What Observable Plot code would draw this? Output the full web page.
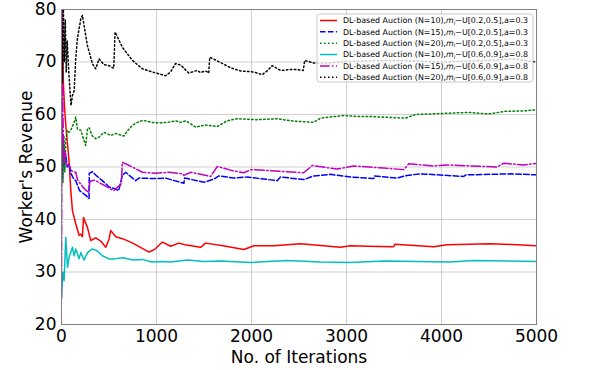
<!DOCTYPE html>
<html>
<head>
<meta charset="utf-8">
<script src="https://cdn.jsdelivr.net/npm/d3@7"></script>
<script src="https://cdn.jsdelivr.net/npm/@observablehq/plot@0.6"></script>
<style>
  html, body { margin: 0; padding: 0; background: #fff; }
  #chart svg { display: block; }
</style>
</head>
<body>
<div id="chart"></div>
<script>
// ---- data: [iteration, revenue] ----
const redN10a03 = [[0,80],[5,72],[10,78],[20,66],[30,62],[45,58],[60,55],[80,51],[98,45.5],[115,41.7],[150,39.2],[185,37],[203,37.2],[220,36.7],[232,40.4],[250,39.5],[273,38.5],[308,36],[360,36.5],[413,35.9],[466,34.7],[501,36.3],[518,37.9],[571,36.7],[650,36.3],[750,35.5],[850,34.5],[921,33.8],[980,34.3],[1062,35.7],[1149,34.9],[1236,35.5],[1300,35.2],[1464,34.7],[1517,35.5],[1700,35.0],[1920,34.3],[2025,35.0],[2235,35.0],[2515,35.4],[2700,35.1],[2935,34.7],[3042,35.0],[3217,34.9],[3497,34.8],[3510,35.3],[3918,34.8],[4058,35.2],[4514,35.4],[4794,35.2],[5000,35.0]];
const blueN15a03 = [[0,60],[10,48],[20,55],[30,50],[45,52.5],[60,50],[80,50.6],[98,48.8],[133,47.6],[150,47.4],[190,45.5],[255,44.6],[290,44.0],[292,48.8],[325,49.1],[370,48.3],[430,47.4],[501,46.2],[553,45.9],[602,45.5],[640,48.4],[676,49.0],[720,48.3],[781,47.4],[816,47.9],[990,47.8],[1095,47.9],[1149,47.6],[1289,46.9],[1295,47.9],[1500,47.1],[1605,47.7],[1657,48.3],[1815,47.9],[1955,48.1],[2270,47.4],[2305,48.1],[2550,47.6],[2655,48.3],[2830,48.6],[3042,48.1],[3287,47.8],[3295,48.3],[3533,47.9],[3638,48.4],[3778,48.7],[4234,48.2],[4260,48.5],[4724,48.7],[5000,48.5]];
const greenN20a03 = [[0,50],[8,58],[15,47],[25,56],[35,49],[45,55],[60,57],[80,56.6],[98,57],[133,58.5],[150,59.5],[168,57.2],[203,57],[238,55],[255,54.1],[273,57.2],[290,57.5],[325,55.9],[360,55.4],[395,55.7],[447,56.6],[520,56],[571,56.4],[655,55.9],[700,57],[750,58],[800,58.5],[858,58.9],[950,58.5],[1050,58.4],[1150,58.6],[1200,58.8],[1256,58.5],[1309,58.8],[1412,57.6],[1516,58.0],[1640,57.7],[1745,58.8],[1850,59.2],[2060,59.0],[2270,59.2],[2410,58.8],[2655,58.5],[2725,59.3],[2865,59.6],[2970,59.8],[3145,59.6],[3270,59.6],[3620,59.3],[3725,60.0],[4005,60.2],[4285,60.4],[4495,60.1],[4670,60.6],[4880,60.7],[5000,60.9]];
const cyanN10a08 = [[0,25],[15,30],[28,28.4],[45,36.6],[63,30.9],[80,32.8],[115,34.7],[133,33.1],[150,34.4],[185,32.5],[203,33.7],[238,32.3],[273,33.7],[325,34.4],[378,34.0],[430,33.1],[501,32.5],[553,32.5],[650,32.7],[750,32.3],[850,32.4],[950,31.9],[1050,32.0],[1149,31.9],[1324,32.3],[1500,32.0],[1675,32.1],[1990,31.8],[2375,32.2],[2725,31.9],[3042,31.8],[3393,32.1],[4093,31.9],[4340,32.2],[5000,32.0]];
const magentaN15a08 = [[0,25],[8,80],[15,60],[25,51],[35,53],[50,50.5],[80,50.3],[110,49.2],[150,49],[168,47.6],[220,46.3],[255,45.6],[285,45.2],[300,47.3],[350,47.5],[400,47],[450,46.5],[500,46],[550,45.5],[600,46.3],[630,46.8],[640,50.9],[745,50.0],[851,49.0],[990,48.8],[1130,49.0],[1270,48.7],[1289,48.4],[1360,49.0],[1570,48.2],[1640,50.1],[1780,49.4],[1920,48.9],[1990,49.5],[2200,49.3],[2550,48.9],[2640,50.3],[2900,49.6],[3075,50.2],[3393,49.8],[3603,49.5],[3655,50.6],[3918,50.2],[4058,50.4],[4584,50.0],[4654,50.7],[4864,50.4],[5000,50.7]];
const blackN20a08 = [[0,80],[10,66],[20,80],[30,70],[40,78],[50,68],[60,74],[80,67.1],[100,61.7],[115,63.6],[133,64.5],[150,70.7],[168,74.5],[203,78.2],[220,78.9],[273,73.1],[325,69.7],[360,68.7],[395,70.6],[447,69.5],[500,69.3],[550,68.8],[564,75.7],[641,72.8],[746,70.3],[851,68.7],[956,68.1],[1096,67.4],[1149,68.1],[1200,69.7],[1256,69.4],[1340,67.9],[1428,68.4],[1463,68.0],[1516,68.3],[1550,67.9],[1560,70.9],[1640,70.2],[1780,68.9],[1885,68.3],[2025,68.1],[2113,67.6],[2165,68.3],[2218,69.3],[2305,68.4],[2445,68.6],[2545,68.4],[2560,70.3],[2655,69.8],[2800,69.8],[3000,70.1],[3500,70.3],[4000,70.0],[4500,70.3],[4750,70.6],[5000,70.0]];

const xTicks = [0, 1000, 2000, 3000, 4000, 5000];
const yTicks = [20, 30, 40, 50, 60, 70, 80];

const seriesNames = [
  ["(N=10)", "U[0.2,0.5],a=0.3"],
  ["(N=15)", "U[0.2,0.5],a=0.3"],
  ["(N=20)", "U[0.2,0.5],a=0.3"],
  ["(N=10)", "U[0.6,0.9],a=0.8"],
  ["(N=15)", "U[0.6,0.9],a=0.8"],
  ["(N=20)", "U[0.6,0.9],a=0.8"]
];
const seriesData = [redN10a03, blueN15a03, greenN20a03, cyanN10a08, magentaN15a08, blackN20a08];
const seriesColors = ["#ff0000", "#0000ff", "#008000", "#00bfbf", "#bf00bf", "#000000"];
const seriesDash = [null, "5.5,2.4", "1.5,2.5", null, "9.6,2.4,1.5,2.4", "1.5,2.5"];

const W = 598, H = 370;
const mL = 61, mR = 62, mT = 9, mB = 46;

const marks = [
  Plot.gridX(xTicks, {stroke: "#b0b0b0", strokeOpacity: 0.6, strokeWidth: 1}),
  Plot.gridY(yTicks, {stroke: "#b0b0b0", strokeOpacity: 0.6, strokeWidth: 1}),
  Plot.axisX(xTicks, {tickSize: 0, tickPadding: 5, fontSize: 17, tickFormat: d3.format("d"), label: "No. of Iterations", labelAnchor: "center", labelArrow: "none", labelOffset: 38}),
  Plot.axisY(yTicks, {tickSize: 0, tickPadding: 5, fontSize: 17, tickFormat: d3.format("d"), label: "Worker's Revenue", labelAnchor: "center", labelArrow: "none", labelOffset: 42})
];
seriesData.forEach((d, i) => {
  marks.push(Plot.line(d, {x: d => d[0], y: d => d[1], stroke: seriesColors[i], strokeWidth: 1.5,
    strokeDasharray: seriesDash[i], clip: true, strokeLinejoin: "round"}));
});
marks.push(Plot.frame({stroke: "#808080", strokeWidth: 1}));

const chart = Plot.plot({
  width: W, height: H,
  marginLeft: mL, marginRight: mR, marginTop: mT, marginBottom: mB,
  x: {domain: [0, 5000]},
  y: {domain: [20, 80]},
  style: {fontFamily: "DejaVu Sans", fontSize: "17px", color: "#000", background: "#fff"},
  marks
});
document.getElementById("chart").appendChild(chart);

// legend inside the plot (upper right)
const svg = d3.select(chart);
const lg = svg.append("g").attr("font-family", "DejaVu Sans").attr("font-size", 7.9)
  .attr("text-anchor", "start").style("text-anchor", "start");
const bx = 317, by = 14, bw = 216, bh = 68;
lg.append("rect").attr("x", bx).attr("y", by).attr("width", bw).attr("height", bh)
  .attr("rx", 2.5).attr("fill", "#fff").attr("fill-opacity", 0.8).attr("stroke", "#c8c8c8").attr("stroke-width", 1);
seriesNames.forEach((nm, i) => {
  const cy = by + 6.5 + i * 11.35;
  lg.append("line").attr("x1", bx + 3).attr("x2", bx + 20).attr("y1", cy).attr("y2", cy)
    .attr("stroke", seriesColors[i]).attr("stroke-width", 1.5)
    .attr("stroke-dasharray", seriesDash[i]);
  const t = lg.append("text").attr("x", bx + 26).attr("y", cy).attr("dy", "0.35em").attr("fill", "#000")
    .style("text-anchor", "start");
  t.append("tspan").text("DL-based Auction " + nm[0] + ",");
  t.append("tspan").attr("font-style", "italic").text("m");
  t.append("tspan").attr("font-style", "italic").attr("font-size", 5.5).attr("dy", "0.25em").text("i");
  t.append("tspan").attr("dy", "-0.18em").text("~" + nm[1]);
});
</script>
</body>
</html>
